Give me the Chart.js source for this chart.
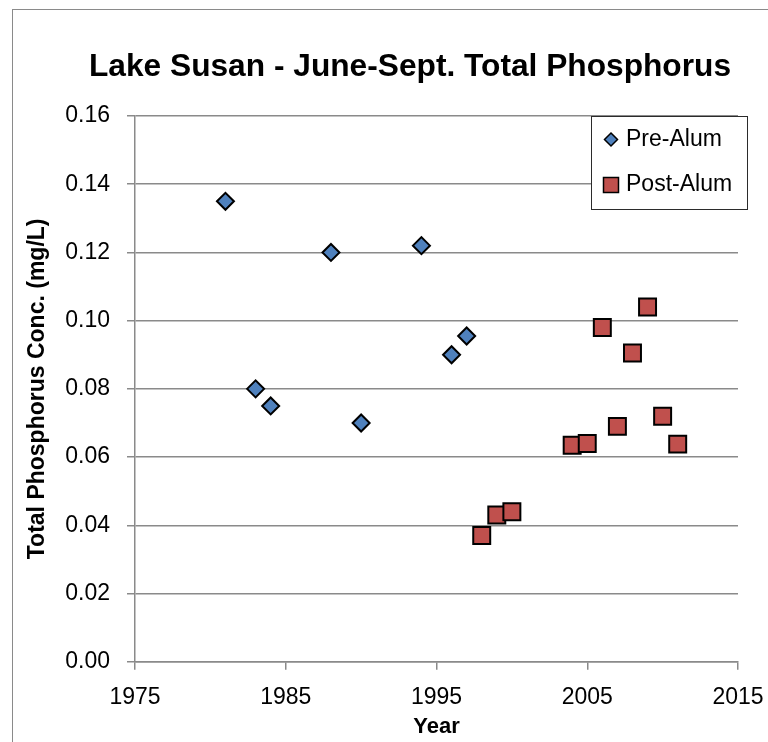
<!DOCTYPE html>
<html>
<head>
<meta charset="utf-8">
<script src="https://cdn.jsdelivr.net/npm/chart.js@4/dist/chart.umd.min.js"></script>
<style>
html, body { margin: 0; padding: 0; background: #fff; overflow: hidden; }
#frame { position: absolute; left: 12px; top: 9px; border: 1px solid #8a8a8a; background: #fff; }
canvas { display: block; }
</style>
</head>
<body>
<div id="frame"><canvas id="tp" width="794" height="760"></canvas></div>
<script>
// Lake Susan June-Sept. mean total phosphorus (mg/L)
var preYears = [1981, 1983, 1984, 1988, 1990, 1994, 1996, 1997];
var preTP = [0.135, 0.080, 0.075, 0.120, 0.070, 0.122, 0.090, 0.0955];
var postYears = [1998, 1999, 2000, 2004, 2005, 2006, 2007, 2008, 2009, 2010, 2011];
var postTP = [0.037, 0.043, 0.044, 0.0635, 0.064, 0.098, 0.069, 0.0905, 0.104, 0.072, 0.0638];

var FONT = "'Liberation Sans', Arial, sans-serif";
var gridGray = '#8a8a8a';

function toPoints(xs, ys) {
    return xs.map(function(x, i) { return {x: x, y: ys[i]}; });
}

// legend box drawn inside the plot, top right (like the excel one)
var boxLegend = {
    id: 'boxLegend',
    afterDraw: function(chart) {
        var ctx = chart.ctx;
        var area = chart.chartArea;
        var left = Math.round(area.right - 147), top = Math.round(area.top);
        var w = 156, h = 93;
        ctx.save();
        ctx.fillStyle = '#fff';
        ctx.fillRect(left, top, w, h);
        ctx.strokeStyle = '#2b2b2b';
        ctx.lineWidth = 1;
        ctx.strokeRect(left + 0.5, top + 0.5, w, h);

        var ds = chart.data.datasets;
        var rows = [23.5, 69];
        ds.forEach(function(d, i) {
            var cx = left + 20, cy = top + rows[i];
            ctx.fillStyle = d.backgroundColor;
            ctx.strokeStyle = '#000';
            ctx.lineWidth = 1.5;
            ctx.beginPath();
            if (d.pointStyle === 'rectRot') {
                ctx.moveTo(cx, cy - 6.5);
                ctx.lineTo(cx + 6.5, cy);
                ctx.lineTo(cx, cy + 6.5);
                ctx.lineTo(cx - 6.5, cy);
                ctx.closePath();
            } else {
                ctx.rect(cx - 7.5, cy - 7.5, 15, 15);
            }
            ctx.fill();
            ctx.stroke();

            ctx.fillStyle = '#000';
            ctx.font = '23px ' + FONT;
            ctx.textAlign = 'left';
            ctx.textBaseline = 'middle';
            ctx.fillText(d.label, left + 35, cy);
        });
        ctx.restore();
    }
};

new Chart(document.getElementById('tp').getContext('2d'), {
    type: 'scatter',
    data: {
        datasets: [{
            label: 'Pre-Alum',
            data: toPoints(preYears, preTP),
            pointStyle: 'rectRot',
            pointRadius: 8.5,
            backgroundColor: '#4f81bd',
            borderColor: '#000',
            borderWidth: 2
        }, {
            label: 'Post-Alum',
            data: toPoints(postYears, postTP),
            pointStyle: 'rect',
            pointRadius: 12,
            backgroundColor: '#c0504d',
            borderColor: '#000',
            borderWidth: 2
        }]
    },
    options: {
        responsive: false,
        animation: false,
        events: [],
        layout: { padding: { left: 0, top: 0, right: 0, bottom: 26 } },
        plugins: {
            legend: { display: false },
            tooltip: { enabled: false },
            title: {
                display: true,
                text: 'Lake Susan - June-Sept. Total Phosphorus',
                color: '#000',
                font: { family: FONT, size: 31.7, weight: 'bold' },
                padding: { top: 38, bottom: 30 }
            }
        },
        scales: {
            x: {
                type: 'linear',
                position: 'bottom',
                min: 1975,
                max: 2015,
                ticks: {
                    stepSize: 10,
                    color: '#000',
                    padding: 14,
                    font: { family: FONT, size: 23 },
                    callback: function(v) { return String(v); }
                },
                grid: { drawOnChartArea: false, drawTicks: true, tickLength: 8, color: gridGray, lineWidth: 1.5 },
                border: { display: true, color: gridGray, width: 1.5 },
                title: {
                    display: true,
                    text: 'Year',
                    color: '#000',
                    font: { family: FONT, size: 22, weight: 'bold' },
                    padding: { top: 0, bottom: 4 }
                },
                afterFit: function(s) { s.height = 82.3; }
            },
            y: {
                type: 'linear',
                position: 'left',
                min: 0,
                max: 0.16,
                ticks: {
                    stepSize: 0.02,
                    color: '#000',
                    padding: 17,
                    font: { family: FONT, size: 23 },
                    callback: function(v) { return v.toFixed(2); }
                },
                grid: { drawTicks: true, tickLength: 8, color: gridGray, lineWidth: 1.5 },
                border: { display: true, color: gridGray, width: 1.5 },
                title: {
                    display: true,
                    text: 'Total Phosphorus Conc. (mg/L)',
                    color: '#000',
                    font: { family: FONT, size: 23, weight: 'bold' },
                    padding: { top: 10.5, bottom: 0 }
                },
                afterFit: function(s) { s.width = 122; }
            },
            // empty right box, only keeps room so the title stays centred like the original
            spacer: {
                type: 'linear',
                position: 'right',
                display: true,
                ticks: { display: false },
                grid: { display: false },
                border: { display: false },
                afterFit: function(s) { s.width = 69; }
            }
        }
    },
    plugins: [boxLegend]
});
</script>
</body>
</html>
